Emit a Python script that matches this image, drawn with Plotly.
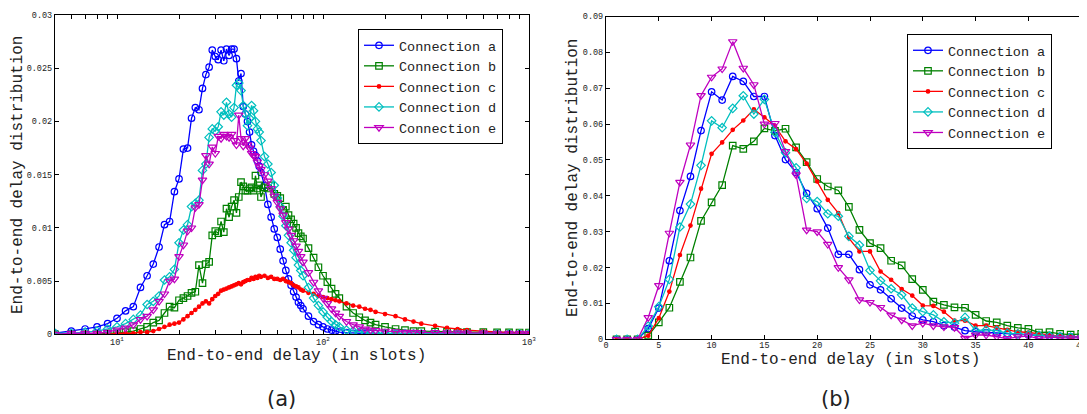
import math
import plotly.graph_objects as go

# ---------------- data: panel (a), log x axis ----------------
DELAY_A = list(range(5, 51)) + list(range(52, 81, 2)) + [
    85, 90, 95, 100, 105, 110, 115, 120, 130, 140, 150, 160, 170, 180, 200,
    225, 250, 275, 300, 350, 400, 450, 500, 600, 700, 800, 900, 1000]

A_CONN_A = [0.0001, 0.0003, 0.0005, 0.0007, 0.0010, 0.0015, 0.0022, 0.0026, 0.0044, 0.0055,
            0.0066, 0.0082, 0.0103, 0.0106, 0.0134, 0.0146, 0.0174, 0.0175, 0.0203, 0.0213,
            0.0211, 0.0231, 0.0244, 0.0251, 0.0267, 0.0261, 0.0258, 0.0267, 0.0257, 0.0268,
            0.0262, 0.0268, 0.0268, 0.0259, 0.0238, 0.0245, 0.0214, 0.0207, 0.0200, 0.0190,
            0.0178, 0.0172, 0.0168, 0.0163, 0.0158, 0.0152,
            0.0140, 0.0122, 0.0110, 0.0099, 0.0091, 0.0080, 0.0069, 0.0060, 0.0052, 0.0046,
            0.0040, 0.0035, 0.0030, 0.0027, 0.0024,
            0.0017, 0.0012, 0.0009, 0.0007, 0.0005, 0.0004, 0.0003, 0.0002, 0.00015, 0.0001,
            0.0001, 0.00008, 0.00007, 0.00006, 0.00005, 0.00005, 0.00004, 0.00004, 0.00003,
            0.00003, 0.00002, 0.00002, 0.00002, 0.00001, 0.00001, 0.00001, 0.00001, 0.00001]

A_CONN_B = [0.0, 0.0, 0.0, 0.0, 0.0001, 0.0001, 0.0002, 0.0003, 0.0005, 0.0007,
            0.0011, 0.0013, 0.0020, 0.0026, 0.0025, 0.0032, 0.0034, 0.0036, 0.0039, 0.0040,
            0.0065, 0.0048, 0.0066, 0.0068, 0.0093, 0.0097, 0.0095, 0.0106, 0.0096, 0.0118,
            0.0110, 0.0120, 0.0126, 0.0114, 0.0129, 0.0143, 0.0139, 0.0135, 0.0135, 0.0137,
            0.0138, 0.0135, 0.0149, 0.0137, 0.0140, 0.0129,
            0.0138, 0.0137, 0.0140, 0.0132, 0.0130, 0.0128, 0.0117, 0.0120, 0.0112, 0.0108,
            0.0104, 0.0100, 0.0095, 0.0092, 0.0090,
            0.0081, 0.0072, 0.0063, 0.0055, 0.0049, 0.0043, 0.0038, 0.0034, 0.0026, 0.0020,
            0.0016, 0.0013, 0.0011, 0.0009, 0.0007, 0.0005, 0.0004, 0.0003, 0.0003, 0.00025,
            0.00022, 0.0002, 0.0002, 0.0002, 0.00018, 0.00018, 0.00017, 0.00017]

A_CONN_C = [0.0, 0.0, 0.0, 0.0, 0.0, 0.0001, 0.0001, 0.0001, 0.0002, 0.0002,
            0.0003, 0.0005, 0.0007, 0.0009, 0.0010, 0.0011, 0.0014, 0.0017, 0.0020, 0.0023,
            0.0026, 0.0029, 0.0031, 0.0029, 0.0033, 0.0036, 0.0038, 0.0041, 0.0042, 0.0043,
            0.0044, 0.0045, 0.0046, 0.0047, 0.0048, 0.0047, 0.0049, 0.0050, 0.0051, 0.0051,
            0.0053, 0.0052, 0.0054, 0.0053, 0.0055, 0.0054,
            0.0055, 0.0053, 0.0054, 0.0052, 0.0052, 0.0051, 0.0052, 0.0050, 0.0049, 0.0048,
            0.0046, 0.0045, 0.0044, 0.0042, 0.0041,
            0.0039, 0.0038, 0.0036, 0.0035, 0.0034, 0.0033, 0.0032, 0.0031, 0.0029, 0.0027,
            0.0026, 0.0024, 0.0023, 0.0021, 0.0019, 0.0017, 0.0014, 0.0012, 0.0010, 0.0008,
            0.0006, 0.0005, 0.0004, 0.0003, 0.0002, 0.00015, 0.0001, 0.0001]

A_CONN_D = [0.0001, 0.0001, 0.0002, 0.0003, 0.0005, 0.0007, 0.0010, 0.0014, 0.0018, 0.0028,
            0.0031, 0.0036, 0.0051, 0.0054, 0.0061, 0.0086, 0.0098, 0.0103, 0.0120, 0.0123,
            0.0126, 0.0154, 0.0160, 0.0185, 0.0193, 0.0191, 0.0195, 0.0209, 0.0206, 0.0218,
            0.0207, 0.0204, 0.0213, 0.0234, 0.0236, 0.0229, 0.0215, 0.0207, 0.0196, 0.0203,
            0.0215, 0.0210, 0.0200, 0.0193, 0.0190, 0.0182,
            0.0167, 0.0160, 0.0152, 0.0140, 0.0128, 0.0120, 0.0111, 0.0102, 0.0093, 0.0086,
            0.0079, 0.0072, 0.0065, 0.0060, 0.0055,
            0.0044, 0.0034, 0.0027, 0.0021, 0.0016, 0.0012, 0.0009, 0.0007, 0.0004, 0.0003,
            0.0002, 0.00015, 0.0001, 0.0001, 0.00008, 0.00007, 0.00006, 0.00005, 0.00005, 0.00004,
            0.00004, 0.00003, 0.00003, 0.00003, 0.00002, 0.00002, 0.00002, 0.00002]

A_CONN_E = [0.0, 0.0001, 0.0001, 0.0001, 0.0002, 0.0004, 0.0006, 0.0009, 0.0014, 0.0017,
            0.0023, 0.0031, 0.0038, 0.0050, 0.0052, 0.0073, 0.0084, 0.0097, 0.0100, 0.0119,
            0.0122, 0.0145, 0.0168, 0.0160, 0.0176, 0.0170, 0.0186, 0.0184, 0.0188, 0.0186,
            0.0185, 0.0188, 0.0182, 0.0178, 0.0206, 0.0184, 0.0177, 0.0184, 0.0178, 0.0175,
            0.0170, 0.0168, 0.0167, 0.0162, 0.0158, 0.0155,
            0.0150, 0.0144, 0.0137, 0.0130, 0.0124, 0.0118, 0.0112, 0.0105, 0.0099, 0.0093,
            0.0088, 0.0083, 0.0078, 0.0073, 0.0068,
            0.0058, 0.0049, 0.0041, 0.0034, 0.0029, 0.0024, 0.0020, 0.0017, 0.0012, 0.0009,
            0.0007, 0.0005, 0.0004, 0.00035, 0.0003, 0.00025, 0.0002, 0.0002, 0.00018, 0.00016,
            0.00015, 0.00014, 0.00013, 0.00012, 0.00011, 0.0001, 0.0001, 0.0001]

# ---------------- data: panel (b), linear x axis ----------------
DELAY_B = list(range(1, 46))

B_CONN_A = [0, 0, 0, 0.0030, 0.0087, 0.0219, 0.0359, 0.0454, 0.0582, 0.0690,
            0.0667, 0.0733, 0.0719, 0.0677, 0.0677, 0.0568, 0.0501, 0.0465, 0.0407, 0.0364,
            0.0310, 0.0237, 0.0237, 0.0194, 0.0152, 0.0138, 0.0113, 0.0087, 0.0065, 0.0054,
            0.0049, 0.0038, 0.0034, 0.0024, 0.0021, 0.0019, 0.0017, 0.0015, 0.0014, 0.0013,
            0.0010, 0.0009, 0.0008, 0.0007, 0.0007]
B_CONN_B = [0, 0, 0, 0.0010, 0.0047, 0.0088, 0.0160, 0.0228, 0.0330, 0.0382,
            0.0430, 0.0540, 0.0531, 0.0552, 0.0588, 0.0581, 0.0587, 0.0535, 0.0494, 0.0447,
            0.0426, 0.0415, 0.0369, 0.0305, 0.0268, 0.0254, 0.0219, 0.0206, 0.0168, 0.0138,
            0.0105, 0.0096, 0.0089, 0.0088, 0.0068, 0.0051, 0.0047, 0.0038, 0.0032, 0.0029,
            0.0019, 0.0020, 0.0015, 0.0013, 0.0015]
B_CONN_C = [0, 0, 0, 0.0010, 0.0059, 0.0133, 0.0235, 0.0317, 0.0420, 0.0517,
            0.0549, 0.0584, 0.0610, 0.0641, 0.0619, 0.0595, 0.0552, 0.0530, 0.0490, 0.0440,
            0.0389, 0.0352, 0.0282, 0.0245, 0.0245, 0.0189, 0.0166, 0.0140, 0.0122, 0.0094,
            0.0093, 0.0077, 0.0052, 0.0052, 0.0038, 0.0038, 0.0033, 0.0026, 0.0021, 0.0019,
            0.0015, 0.0011, 0.0009, 0.0007, 0.0007]
B_CONN_D = [0, 0, 0, 0.0037, 0.0091, 0.0167, 0.0313, 0.0377, 0.0485, 0.0609,
            0.0590, 0.0644, 0.0679, 0.0628, 0.0669, 0.0577, 0.0520, 0.0478, 0.0393, 0.0384,
            0.0350, 0.0343, 0.0287, 0.0263, 0.0192, 0.0163, 0.0141, 0.0124, 0.0087, 0.0077,
            0.0068, 0.0049, 0.0045, 0.0061, 0.0024, 0.0026, 0.0024, 0.0017, 0.0015, 0.0012,
            0.0011, 0.0009, 0.0007, 0.0006, 0.0006]
B_CONN_E = [0, 0, 0, 0.0061, 0.0150, 0.0296, 0.0438, 0.0542, 0.0680, 0.0731,
            0.0754, 0.0830, 0.0756, 0.0710, 0.0600, 0.0602, 0.0524, 0.0459, 0.0305, 0.0300,
            0.0265, 0.0200, 0.0166, 0.0110, 0.0103, 0.0089, 0.0068, 0.0054, 0.0038, 0.0045,
            0.0038, 0.0035, 0.0033, 0.0003, 0.0012, 0.0012, 0.0007, 0.0002, 0.0007, 0.0009,
            0.0002, 0.0006, 0.0004, 0.0004, 0.0004]

NAMES = ["Connection a", "Connection b", "Connection c", "Connection d", "Connection e"]
COLORS = ["#0000FF", "#008000", "#FF0000", "#00BFBF", "#BF00BF"]
SYMBOLS = ["circle-open", "square-open", "circle", "diamond-open", "triangle-down-open"]
SIZES = [6.5, 6.5, 3.5, 6.5, 7.5]

A_TICK_X = [10, 100, 1000]
A_TICK_X_TXT = ["10<sup>1</sup>", "10<sup>2</sup>", "10<sup>3</sup>"]
A_MINOR_X = list(range(5, 10)) + list(range(20, 100, 10)) + list(range(200, 1000, 100))
A_TICK_Y = [0, 0.005, 0.01, 0.015, 0.02, 0.025, 0.03]
A_TICK_Y_TXT = ["0", "0.005", "0.01", "0.015", "0.02", "0.025", "0.03"]
B_TICK_Y = [0, 0.01, 0.02, 0.03, 0.04, 0.05, 0.06, 0.07, 0.08, 0.09]
B_TICK_Y_TXT = ["0", "0.01", "0.02", "0.03", "0.04", "0.05", "0.06", "0.07", "0.08", "0.09"]
B_TICK_X = [0, 5, 10, 15, 20, 25, 30, 35, 40, 45]

XLABEL = "End-to-end delay (in slots)"
YLABEL = "End-to-end delay distribution"

# the page body has an 8 px margin: the figure is drawn from (8, 8)
OFF = 8
W, H = 1087 - OFF, 414 - OFF
MONO = "Liberation Mono"

fig = go.Figure()

series_a = [A_CONN_A, A_CONN_B, A_CONN_C, A_CONN_D, A_CONN_E]
series_b = [B_CONN_A, B_CONN_B, B_CONN_C, B_CONN_D, B_CONN_E]

for i in range(5):
    assert len(series_a[i]) == len(DELAY_A)
    fig.add_trace(go.Scatter(
        x=DELAY_A, y=series_a[i], name=NAMES[i], mode="lines+markers",
        line=dict(color=COLORS[i], width=1.3),
        marker=dict(symbol=SYMBOLS[i], size=SIZES[i], color=COLORS[i],
                    line=dict(color=COLORS[i], width=1.2)),
        xaxis="x", yaxis="y", legend="legend"))

for i in range(5):
    assert len(series_b[i]) == len(DELAY_B)
    fig.add_trace(go.Scatter(
        x=DELAY_B, y=series_b[i], name=NAMES[i], mode="lines+markers",
        line=dict(color=COLORS[i], width=1.3),
        marker=dict(symbol=SYMBOLS[i], size=SIZES[i], color=COLORS[i],
                    line=dict(color=COLORS[i], width=1.2)),
        xaxis="x2", yaxis="y2", legend="legend2"))

tickfont = dict(family=MONO, size=8.5, color="#222222")
axis_common = dict(showline=True, linecolor="black", linewidth=1.2, mirror="allticks",
                   ticks="inside", ticklen=4, tickwidth=1, tickcolor="black",
                   showgrid=False, zeroline=False, tickfont=tickfont, automargin=False)


def px_x(p):
    return (p - OFF) / W


def px_y(p):
    return (H - (p - OFF)) / H


fig.update_layout(
    width=W, height=H,
    margin=dict(l=0, r=0, t=0, b=0),
    paper_bgcolor="white", plot_bgcolor="white",
    xaxis=dict(domain=[px_x(55), px_x(529)], type="log",
               range=[math.log10(5), 3], tickmode="array",
               tickvals=A_TICK_X, ticktext=A_TICK_X_TXT, anchor="y",
               ticklabelstandoff=-1,
               minor=dict(tickvals=A_MINOR_X, ticks="inside", ticklen=4,
                          tickcolor="black", tickwidth=1, showgrid=False),
               **axis_common),
    yaxis=dict(domain=[px_y(334.3), px_y(15)], range=[0, 0.03], tickmode="array",
               tickvals=A_TICK_Y, ticktext=A_TICK_Y_TXT, anchor="x", **axis_common),
    xaxis2=dict(domain=[px_x(606), px_x(1083)], range=[0, 45.17], tickmode="array",
                tickvals=B_TICK_X, ticktext=[str(v) for v in B_TICK_X], anchor="y2",
                ticklabelstandoff=-3,
                **axis_common),
    yaxis2=dict(domain=[px_y(339.3), px_y(16.5)], range=[0, 0.09], tickmode="array",
                tickvals=B_TICK_Y, ticktext=B_TICK_Y_TXT, anchor="x2", **axis_common),
    legend=dict(x=px_x(358), y=px_y(29), xanchor="left", yanchor="top",
                bgcolor="white", bordercolor="black", borderwidth=1,
                font=dict(family=MONO, size=13.5, color="#222222")),
    legend2=dict(x=px_x(907), y=px_y(34), xanchor="left", yanchor="top",
                 bgcolor="white", bordercolor="black", borderwidth=1,
                 font=dict(family=MONO, size=13.5, color="#222222")),
    showlegend=True,
)

title_font = dict(family=MONO, size=16, color="#222222")
ann = [
    dict(text=XLABEL, x=px_x(296), y=px_y(356), font=title_font),
    dict(text=XLABEL, x=px_x(850), y=px_y(360), font=title_font),
    dict(text=YLABEL, x=px_x(18), y=px_y(175), textangle=-90, font=title_font),
    dict(text=YLABEL, x=px_x(573), y=px_y(178), textangle=-90, font=title_font),
    dict(text="(a)", x=px_x(281), y=px_y(399),
         font=dict(family="DejaVu Sans", size=21, color="#222222")),
    dict(text="(b)", x=px_x(836), y=px_y(399),
         font=dict(family="DejaVu Sans", size=21, color="#222222")),
]
for a in ann:
    fig.add_annotation(xref="paper", yref="paper", showarrow=False,
                       xanchor="center", yanchor="middle", **a)

fig.write_html("out.html")
